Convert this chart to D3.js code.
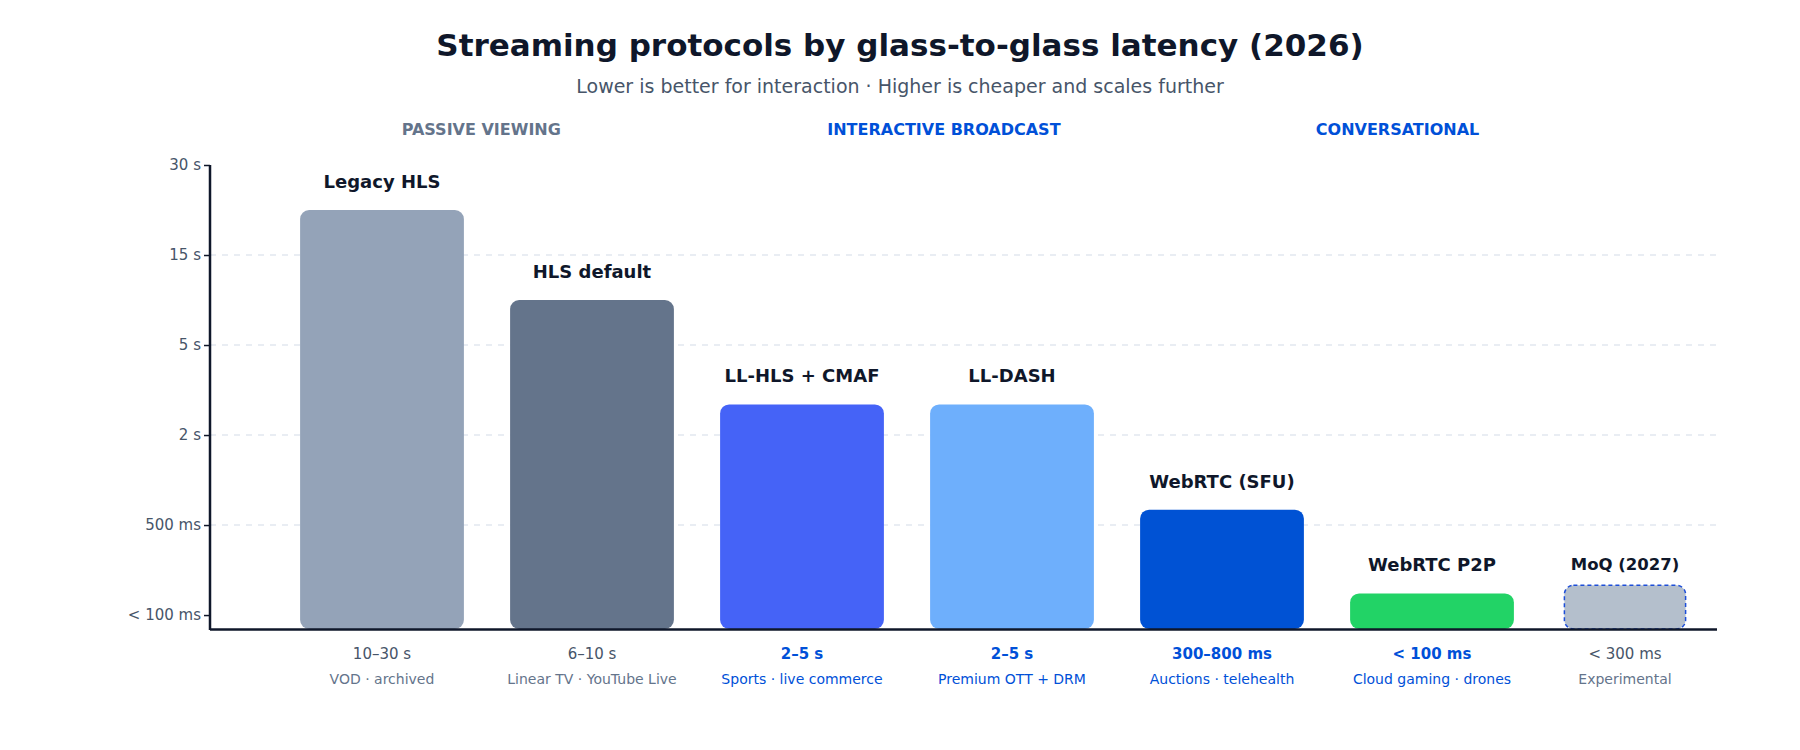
<!DOCTYPE html>
<html><head><meta charset="utf-8">
<script src="https://cdn.jsdelivr.net/npm/d3@7"></script>
<style>body{margin:0;background:#fff}svg{font-family:"DejaVu Sans",sans-serif}</style>
</head><body><svg id="c" width="1800" height="750"></svg>
<script>
const protocols=["Legacy HLS","HLS default","LL-HLS + CMAF","LL-DASH","WebRTC (SFU)","WebRTC P2P","MoQ (2027)"];
const levels=[4.5,3.5,2.34,2.34,1.17,0.24,0.33];
const ranges=["10–30 s","6–10 s","2–5 s","2–5 s","300–800 ms","< 100 ms","< 300 ms"];
const useCases=["VOD · archived","Linear TV · YouTube Live","Sports · live commerce","Premium OTT + DRM","Auctions · telehealth","Cloud gaming · drones","Experimental"];
const highlight=[false,false,true,true,true,true,false];
const colors=["#94a3b8","#64748b","#4563f7","#6eaffc","#0052d4","#22d366","#b4bfcc"];
const tickLabels=["< 100 ms","500 ms","2 s","5 s","15 s","30 s"];
const groups=["PASSIVE VIEWING","INTERACTIVE BROADCAST","CONVERSATIONAL"];
const groupPos=[0.18,0.487,0.788];
const groupColors=["#64748b","#0050d8","#0050d8"];

const svg=d3.select("#c");
const x0=210,x1=1717;
const x=d3.scaleBand().domain(protocols).range([277,1747]).paddingInner(0.22).paddingOuter(0.11);
const y=d3.scaleLinear().domain([-0.155,5]).range([629,165]);
svg.append("text").attr("x",900).attr("y",56).attr("text-anchor","middle").attr("font-size",31).attr("font-weight","bold").attr("fill","#0f172a").text("Streaming protocols by glass-to-glass latency (2026)");
svg.append("text").attr("x",900).attr("y",93).attr("text-anchor","middle").attr("font-size",19).attr("fill","#475569").text("Lower is better for interaction · Higher is cheaper and scales further");
groups.forEach((g,i)=>svg.append("text").attr("x",x0+groupPos[i]*(x1-x0)).attr("y",135).attr("text-anchor","middle").attr("font-size",16).attr("font-weight","bold").attr("fill",groupColors[i]).text(g));
// grid
[1,2,3,4].forEach(v=>svg.append("line").attr("x1",x0).attr("x2",x1).attr("y1",y(v)).attr("y2",y(v)).attr("stroke","#e2e8f0").attr("stroke-width",1.5).attr("stroke-dasharray","6,6"));
// bars
protocols.forEach((p,i)=>{
  const moq=i===6;
  const w=moq?x.bandwidth()*0.74:x.bandwidth();
  const cx=x(p)+x.bandwidth()/2-(moq?17:0);
  const r=svg.append("rect").attr("x",cx-w/2).attr("y",y(levels[i])).attr("width",w).attr("height",y(-0.155)-y(levels[i])).attr("rx",9).attr("fill",colors[i]);
  if(moq) r.attr("stroke","#1d4ed8").attr("stroke-width",1.5).attr("stroke-dasharray","4,3");
  svg.append("text").attr("x",cx).attr("y",y(levels[i])-(moq?15:22)).attr("text-anchor","middle").attr("font-size",moq?16.5:18).attr("font-weight","bold").attr("fill","#0f172a").text(p);
  svg.append("text").attr("x",cx).attr("y",659).attr("text-anchor","middle").attr("font-size",15).attr("font-weight",highlight[i]?"bold":"normal").attr("fill",highlight[i]?"#0050d8":"#475569").text(ranges[i]);
  svg.append("text").attr("x",cx).attr("y",684).attr("text-anchor","middle").attr("font-size",14).attr("fill",highlight[i]?"#0050d8":"#64748b").text(useCases[i]);
});
// y axis
const ax=svg.append("g").attr("transform",`translate(${x0},0)`).call(d3.axisLeft(y).tickValues([0,1,2,3,4,5]).tickFormat(d=>tickLabels[d]).tickSize(6).tickSizeOuter(0));
ax.select(".domain").remove();
ax.selectAll("line").attr("stroke","#0f172a").attr("stroke-width",1.5);
ax.selectAll("text").attr("font-size",15).attr("fill","#475569").attr("font-family","DejaVu Sans");
svg.append("line").attr("x1",x0).attr("x2",x0).attr("y1",165).attr("y2",630).attr("stroke","#0f172a").attr("stroke-width",2.5);
svg.append("line").attr("x1",x0).attr("x2",x1).attr("y1",629.5).attr("y2",629.5).attr("stroke","#0f172a").attr("stroke-width",2.5);
</script></body></html>
